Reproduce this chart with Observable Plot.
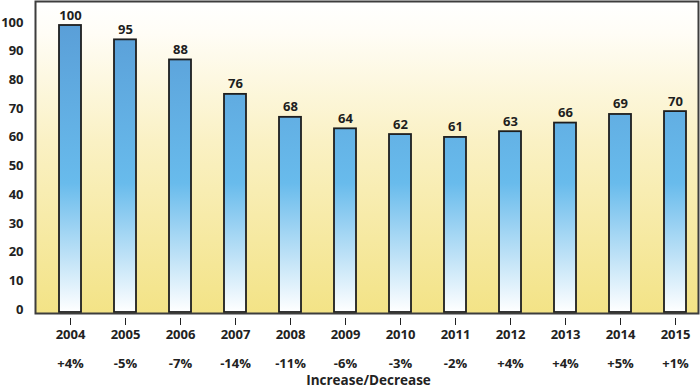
<!DOCTYPE html>
<html>
<head>
<meta charset="utf-8">
<script src="https://cdn.jsdelivr.net/npm/d3@7"></script>
<script src="https://cdn.jsdelivr.net/npm/@observablehq/plot@0.6"></script>
<style>
  html, body { margin: 0; padding: 0; background: #ffffff; }
</style>
</head>
<body>
<div id="chart"></div>
<script>
const years = ["2004","2005","2006","2007","2008","2009","2010","2011","2012","2013","2014","2015"];
const values = [100, 95, 88, 76, 68, 64, 62, 61, 63, 66, 69, 70];
const changes = ["+4%","-5%","-7%","-14%","-11%","-6%","-3%","-2%","+4%","+4%","+5%","+1%"];
const yTicks = [0,10,20,30,40,50,60,70,80,90,100];
const xTitle = "Increase/Decrease";

const data = years.map((year, i) => ({year, value: values[i], change: changes[i]}));

const defs = () => {
  const g = d3.create("svg:g");
  const d = g.append("defs");
  const bg = d.append("linearGradient").attr("id", "bgGrad")
    .attr("x1", 0).attr("y1", 0).attr("x2", 0).attr("y2", 1);
  bg.append("stop").attr("offset", "0%").attr("stop-color", "#ffffff");
  bg.append("stop").attr("offset", "10%").attr("stop-color", "#fffdf6");
  bg.append("stop").attr("offset", "45%").attr("stop-color", "#faf1c4");
  bg.append("stop").attr("offset", "100%").attr("stop-color", "#f3e386");
  const bar = d.append("linearGradient").attr("id", "barGrad")
    .attr("gradientUnits", "userSpaceOnUse")
    .attr("x1", 0).attr("y1", 25).attr("x2", 0).attr("y2", 312);
  bar.append("stop").attr("offset", "0%").attr("stop-color", "#5a9fd8");
  bar.append("stop").attr("offset", "55%").attr("stop-color", "#68bbec");
  bar.append("stop").attr("offset", "100%").attr("stop-color", "#ffffff");
  return g.node();
};

const font = "'Open Sans', Lato, sans-serif";

const chart = Plot.plot({
  width: 700,
  height: 388,
  marginLeft: 35,
  marginRight: 2,
  marginTop: 1,
  marginBottom: 75,
  style: { fontFamily: font, background: "#ffffff", color: "#222" },
  x: { type: "band", domain: years, range: [58.5, 686.5], paddingInner: 0.6, paddingOuter: 0, label: null },
  y: { domain: [0, 100], range: [312, 25], label: null },
  marks: [
    defs,
    Plot.frame({ fill: "url(#bgGrad)" }),
    Plot.barY(data, { x: "year", y: "value", fill: "url(#barGrad)", stroke: "#1e1e1e", strokeWidth: 1.8 }),
    Plot.frame({ stroke: "#3d3d3d", strokeWidth: 2 }),
    Plot.axisY({ ticks: yTicks, tickSize: 0, tickPadding: 12, fontWeight: "bold", fontSize: 13, dy: -3, label: null }),
    Plot.axisX({ tickSize: 7, dy: 5, tickPadding: 4, fontWeight: "bold", fontSize: 13, label: null, stroke: "#222" }),
    Plot.text(data, { x: "year", y: "value", text: d => String(d.value), dy: -6, lineAnchor: "bottom", fontWeight: "bold", fontSize: 13, fill: "#1e1e1e" }),
    Plot.text(data, { x: "year", text: "change", frameAnchor: "bottom", dy: 50, lineAnchor: "middle", fontWeight: "bold", fontSize: 13, fill: "#222" }),
    Plot.text([xTitle], { text: d => d, frameAnchor: "bottom", dx: 1.5, dy: 67, lineAnchor: "middle", fontWeight: "bold", fontSize: 13.5, fill: "#222" })
  ]
});

document.getElementById("chart").appendChild(chart);
</script>
</body>
</html>
